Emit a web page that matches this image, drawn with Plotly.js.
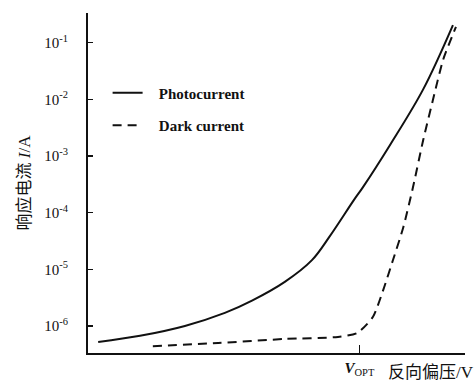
<!DOCTYPE html>
<html>
<head>
<meta charset="utf-8">
<script src="https://cdn.plot.ly/plotly-3.0.1.min.js"></script>
<style>html,body{margin:0;padding:0;background:#fff;}#chart{width:476px;height:382px;}</style>
</head>
<body>
<div id="chart"></div>
<script>
// Reverse bias (arbitrary units, axis has no numeric scale)
var photoV = [0.27, 1.38, 2.57, 3.63, 4.35, 5.22, 5.94, 6.42, 7.06, 7.29, 8.02, 8.89, 9.68];
var photoI = [5.2e-7, 6.7e-7, 1.0e-6, 1.7e-6, 2.8e-6, 6.0e-6, 1.45e-5, 3.9e-5, 1.7e-4, 2.8e-4, 1.6e-3, 1.5e-2, 2.05e-1];
var darkV = [1.72, 3.45, 5.22, 6.63, 7.14, 7.56, 7.83, 8.09, 8.36, 8.62, 8.89, 9.15, 9.42, 9.76];
var darkI = [4.4e-7, 5.0e-7, 5.9e-7, 6.4e-7, 7.5e-7, 1.45e-6, 4.3e-6, 1.46e-5, 5.4e-5, 2.8e-4, 1.9e-3, 9.8e-3, 5.0e-2, 1.9e-1];
var vOpt = 7.2;
var yTickVals = [1e-6, 1e-5, 1e-4, 1e-3, 1e-2, 1e-1];
var yTickText = ['10<sup>-6</sup>', '10<sup>-5</sup>', '10<sup>-4</sup>', '10<sup>-3</sup>', '10<sup>-2</sup>', '10<sup>-1</sup>'];
var seriesNames = ['\u00a0\u00a0\u00a0Photocurrent', '\u00a0\u00a0\u00a0Dark current'];

var serif = 'Liberation Serif, Times New Roman, Noto Sans CJK SC, serif';
var traces = [
  {x: photoV, y: photoI, type: 'scatter', mode: 'lines', name: seriesNames[0], legendgroup: 'a',
   line: {color: '#111', width: 2, shape: 'spline', smoothing: 1}},
  {x: darkV, y: darkI, type: 'scatter', mode: 'lines', name: seriesNames[1], legendgroup: 'b',
   line: {color: '#111', width: 2, dash: '9px,6px', shape: 'spline', smoothing: 0.6}}
];
var layout = {
  width: 476, height: 382,
  margin: {l: 88, r: 11, t: 13, b: 29},
  paper_bgcolor: '#fff', plot_bgcolor: '#fff',
  font: {family: serif, color: '#111', size: 14},
  showlegend: true,
  legend: {x: 0.052, y: 0.813, xanchor: 'left', yanchor: 'top', bgcolor: 'rgba(0,0,0,0)',
           font: {family: serif, size: 15, weight: 'bold'}, tracegroupgap: 10, traceorder: 'grouped'},
  xaxis: {range: [0, 10], showgrid: false, zeroline: false, showline: true, linecolor: '#111', linewidth: 2,
          tickvals: [vOpt], ticktext: ['<b><i>V</i></b><sub>OPT</sub>'], ticks: 'inside', ticklen: 8, tickwidth: 1.5,
          tickcolor: '#111', tickfont: {size: 15, family: serif}},
  yaxis: {type: 'log', range: [-6.477, -0.476], showgrid: false, zeroline: false, showline: true,
          linecolor: '#111', linewidth: 2, tickvals: yTickVals, ticktext: yTickText, ticks: 'inside',
          ticklen: 5, tickwidth: 1.5, tickcolor: '#111', ticklabelstandoff: 15,
          tickfont: {size: 15, family: serif},
          title: {text: '响应电流 <i>I</i>/A', font: {size: 17, family: serif}, standoff: 9}},
  annotations: [
    {xref: 'paper', yref: 'paper', x: 1.03, y: 0, xanchor: 'right', yanchor: 'top', yshift: -8,
     text: '反向偏压/V', showarrow: false, font: {size: 17, family: serif}}
  ]
};
Plotly.newPlot('chart', traces, layout, {displayModeBar: false, staticPlot: true});
</script>
</body>
</html>
